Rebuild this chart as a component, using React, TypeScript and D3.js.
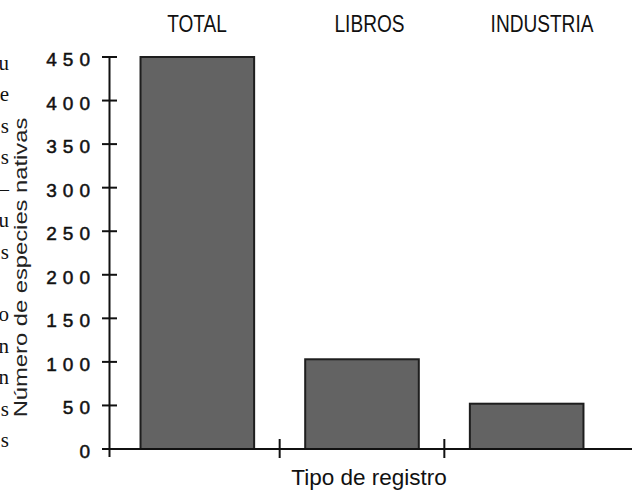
import React from "react";
import * as d3 from "d3";

const categories = ["TOTAL", "LIBROS", "INDUSTRIA"];
const values = [450, 103, 52];
const yTicks = [0, 50, 100, 150, 200, 250, 300, 350, 400, 450];
const yTitle = "Número de especies nativas";
const xTitle = "Tipo de registro";
const marginFragments = ["u", "e", "s", "s", "–", "u", "s", "", "o", "n", "n", "s", "s"];

const W = 632;
const H = 492;

export default function App() {
  const x = d3
    .scaleBand<string>()
    .domain(categories)
    .range([115, 609])
    .paddingInner(0.31)
    .paddingOuter(0.155);
  const y = d3.scaleLinear().domain([0, 450]).range([449, 57]);
  const labelX = d3.scalePoint<string>().domain(categories).range([197, 542]);
  const fragY = d3.scaleLinear().domain([0, marginFragments.length - 1]).range([64, 441]);

  const step = x.step();
  const gap = step * x.paddingInner();
  const separators = categories.slice(0, -1).map((c) => (x(c) as number) + x.bandwidth() + gap / 2);
  const axisX = 109.5;
  const axisColor = "#111";

  return (
    <svg
      width={W}
      height={H}
      style={{ position: "absolute", left: 0, top: 0, background: "#fff" }}
    >
      {/* cropped page text at left margin */}
      {marginFragments.map((t, i) => (
        <text
          key={"f" + i}
          x={9}
          y={fragY(i) + 6}
          textAnchor="end"
          fontFamily="'Liberation Serif', serif"
          fontSize={21}
          fill="#111"
        >
          {t}
        </text>
      ))}

      {/* top category labels */}
      {categories.map((c) => (
        <text
          key={"l" + c}
          transform={`translate(${labelX(c)},32) scale(0.83,1)`}
          textAnchor="middle"
          fontFamily="'Liberation Sans', Arial, sans-serif"
          fontSize={23}
          fill="#111"
        >
          {c}
        </text>
      ))}

      {/* bars */}
      {categories.map((c, i) => (
        <rect
          key={"b" + c}
          x={x(c)}
          y={y(values[i])}
          width={x.bandwidth()}
          height={y(0) - y(values[i])}
          fill="#636363"
          stroke="#1e1e1e"
          strokeWidth={2}
        />
      ))}

      {/* y axis */}
      <line x1={axisX} x2={axisX} y1={y(450)} y2={y(0) + 8} stroke={axisColor} strokeWidth={2} />
      {yTicks.map((t) => (
        <g key={"t" + t}>
          <line x1={102} x2={117} y1={y(t)} y2={y(t)} stroke={axisColor} strokeWidth={2} />
          <text
            x={96}
            y={y(t) + 9}
            textAnchor="end"
            fontFamily="'Liberation Sans', Arial, sans-serif"
            fontSize={19}
            letterSpacing={6}
            fill="#111"
            stroke="#111"
            strokeWidth={0.5}
          >
            {t}
          </text>
        </g>
      ))}

      {/* x axis */}
      <line x1={104} x2={W} y1={y(0)} y2={y(0)} stroke={axisColor} strokeWidth={2} />
      {separators.map((sx, i) => (
        <line key={"s" + i} x1={sx} x2={sx} y1={439} y2={458} stroke={axisColor} strokeWidth={2} />
      ))}

      {/* axis titles */}
      <text
        transform={`translate(27,${(107 + 428) / 2}) rotate(-90) scale(1.25,1)`}
        textAnchor="middle"
        fontFamily="'Liberation Sans', Arial, sans-serif"
        fontSize={19}
        fill="#222"
      >
        {yTitle}
      </text>
      <text
        x={369}
        y={485}
        textAnchor="middle"
        fontFamily="'Liberation Sans', Arial, sans-serif"
        fontSize={22.5}
        fill="#111"
      >
        {xTitle}
      </text>
    </svg>
  );
}
